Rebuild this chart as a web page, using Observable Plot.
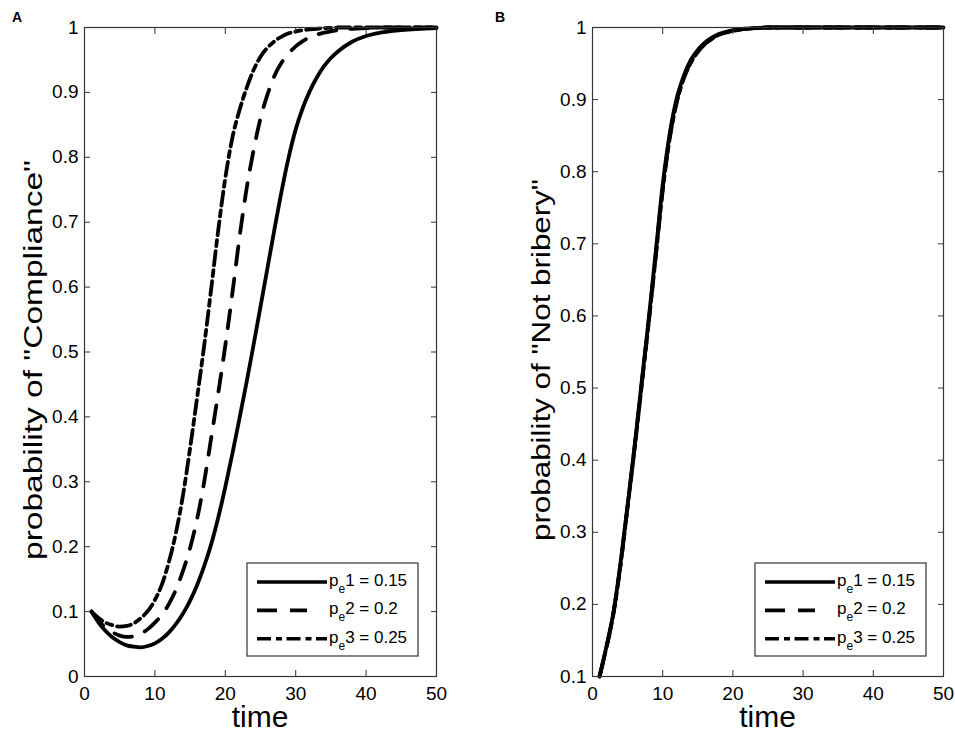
<!DOCTYPE html>
<html>
<head>
<meta charset="utf-8">
<script src="https://cdn.jsdelivr.net/npm/d3@7"></script>
<script src="https://cdn.jsdelivr.net/npm/@observablehq/plot@0.6"></script>
<style>
  html, body { margin: 0; padding: 0; background: #fff; }
  #wrap { display: flex; width: 955px; height: 738px; overflow: hidden; }
  #wrap svg { display: block; }
</style>
</head>
<body>
<div id="wrap"><div id="panelA"></div><div id="panelB"></div></div>
<script>
const FONT = "'Liberation Sans', Arial, Helvetica, sans-serif";

// ---------- Panel A data: probability of "Compliance" ----------
const timeA = [1,2,3,4,5,6,7,8,9,10,11,12,13,14,15,16,17,18,19,20,21,22,23,24,25,26,27,28,29,30,31,32,33,34,35,36,38,40,42,45,50];
const complianceP015 = [0.100,0.083,0.070,0.060,0.053,0.048,0.046,0.045,0.047,0.051,0.058,0.068,0.081,0.097,0.117,0.141,0.170,0.204,0.245,0.292,0.343,0.397,0.452,0.510,0.570,0.630,0.690,0.748,0.800,0.843,0.876,0.902,0.923,0.940,0.953,0.963,0.978,0.987,0.992,0.996,0.999];
const complianceP02  = [0.100,0.086,0.075,0.068,0.063,0.061,0.062,0.066,0.073,0.083,0.095,0.112,0.134,0.163,0.198,0.243,0.300,0.368,0.437,0.510,0.590,0.675,0.750,0.810,0.860,0.897,0.926,0.946,0.960,0.971,0.979,0.985,0.989,0.992,0.994,0.996,0.998,0.999,1.000,1.000,1.000];
const complianceP025 = [0.100,0.090,0.083,0.079,0.077,0.078,0.082,0.090,0.101,0.118,0.142,0.177,0.222,0.280,0.352,0.430,0.510,0.598,0.688,0.768,0.830,0.872,0.906,0.934,0.955,0.969,0.979,0.986,0.991,0.994,0.996,0.997,0.998,0.999,0.9995,1.000,1.000,1.000,1.000,1.000,1.000];

// ---------- Panel B data: probability of "Not bribery" ----------
const timeB = [1,2,3,4,5,6,7,8,9,10,11,12,13,14,15,16,17,18,19,20,21,22,23,24,25,30,35,40,45,50];
const notBriberyP015 = [0.100,0.142,0.190,0.258,0.338,0.420,0.508,0.595,0.688,0.782,0.853,0.902,0.933,0.955,0.969,0.979,0.986,0.991,0.994,0.996,0.9975,0.9985,0.999,0.9995,1.000,1.000,1.000,1.000,1.000,1.000];
const notBriberyP02  = [0.100,0.141,0.189,0.256,0.336,0.418,0.505,0.592,0.684,0.777,0.848,0.898,0.930,0.952,0.967,0.977,0.985,0.990,0.993,0.996,0.9975,0.9985,0.999,0.9995,1.000,1.000,1.000,1.000,1.000,1.000];
const notBriberyP025 = [0.100,0.141,0.188,0.255,0.335,0.416,0.503,0.590,0.681,0.774,0.846,0.896,0.929,0.951,0.966,0.977,0.984,0.990,0.993,0.995,0.997,0.998,0.999,0.9995,1.000,1.000,1.000,1.000,1.000,1.000];

// ---------- Ticks and legend ----------
const xTicks = [0,10,20,30,40,50];
const yTicksA = [0,0.1,0.2,0.3,0.4,0.5,0.6,0.7,0.8,0.9,1];
const yTicksB = [0.1,0.2,0.3,0.4,0.5,0.6,0.7,0.8,0.9,1];
const legendIndex = ["1","2","3"];
const legendValue = ["0.15","0.2","0.25"];
const curveDash = [null, "18,14", "14,5,6,5"];
const legendDash = [null, "20,13,17,40", "14,5,6,4.5"];

function panel(el, {width, marginLeft, marginRight, times, series, yDomain, yTicks, ylabel, ylabelLength, letter, letterX}) {
  const fmt = d => String(+d.toFixed(1));
  const lines = series.map((vals, s) =>
    Plot.line(times.map((t, i) => ({t, v: vals[i]})), {
      x: "t", y: "v", stroke: "black", strokeWidth: 3.8,
      strokeDasharray: curveDash[s] || undefined, curve: "monotone-x"
    })
  );
  const chart = Plot.plot({
    width, height: 738, marginLeft, marginRight, marginTop: 27, marginBottom: 62,
    style: {fontFamily: FONT, background: "white", color: "black"},
    x: {domain: [0, 50]},
    y: {domain: yDomain},
    marks: [
      ...lines,
      Plot.frame({stroke: "#333", strokeWidth: 1.2}),
      Plot.axisX({ticks: xTicks, anchor: "bottom", fill: "none", stroke: "#333", tickSize: 6, dy: -6, label: null}),
      Plot.axisX({ticks: xTicks, anchor: "top", fill: "none", stroke: "#333", tickSize: 6, dy: 6, label: null}),
      Plot.axisY({ticks: yTicks, anchor: "left", fill: "none", stroke: "#333", tickSize: 6, dx: 6, label: null}),
      Plot.axisY({ticks: yTicks, anchor: "right", fill: "none", stroke: "#333", tickSize: 6, dx: -6, label: null}),
      Plot.axisX({ticks: xTicks, anchor: "bottom", tickSize: 0, tickPadding: 10, fontSize: 19, label: null, tickFormat: d => String(d)}),
      Plot.axisY({ticks: yTicks, anchor: "left", tickSize: 0, tickPadding: 6, fontSize: 19, label: null, tickFormat: fmt})
    ]
  });
  const svg = d3.select(chart);
  const [x0, x1] = chart.scale("x").range;
  const cx = (x0 + x1) / 2;
  svg.append("text").attr("x", cx).attr("y", 727).attr("text-anchor", "middle")
    .attr("font-size", 30).attr("fill", "black").text("time");
  svg.append("text").attr("transform", `translate(${x0 - 42},360) rotate(-90)`)
    .attr("text-anchor", "middle").attr("font-size", 26).attr("fill", "black")
    .attr("textLength", ylabelLength).attr("lengthAdjust", "spacingAndGlyphs").text(ylabel);
  svg.append("text").attr("x", letterX).attr("y", 22).attr("font-size", 14)
    .attr("text-anchor", "start").attr("font-weight", "bold").attr("fill", "black").text(letter);

  const g = svg.append("g").attr("transform", `translate(${x0 + 163},563)`);
  g.append("rect").attr("width", 171).attr("height", 93).attr("fill", "white")
    .attr("stroke", "#333").attr("stroke-width", 1.2);
  legendIndex.forEach((idx, s) => {
    const ly = 19 + s * 28.4;
    const ln = g.append("line").attr("x1", 10).attr("x2", 80).attr("y1", ly).attr("y2", ly)
      .attr("stroke", "black").attr("stroke-width", 3.6);
    if (legendDash[s]) ln.attr("stroke-dasharray", legendDash[s]);
    const t = g.append("text").attr("x", 82).attr("y", ly + 4).attr("font-size", 17)
      .attr("text-anchor", "start").attr("fill", "black");
    t.append("tspan").text("p");
    t.append("tspan").attr("dy", 7).attr("font-size", 12).text("e");
    t.append("tspan").attr("dy", -7).text(`${idx} = ${legendValue[s]}`);
  });
  document.getElementById(el).appendChild(chart);
}

panel("panelA", {
  width: 477, marginLeft: 84, marginRight: 41, times: timeA,
  series: [complianceP015, complianceP02, complianceP025],
  yDomain: [0, 1], yTicks: yTicksA,
  ylabel: 'probability of "Compliance"', ylabelLength: 400, letter: "A", letterX: 12
});
panel("panelB", {
  width: 478, marginLeft: 115, marginRight: 12, times: timeB,
  series: [notBriberyP015, notBriberyP02, notBriberyP025],
  yDomain: [0.1, 1], yTicks: yTicksB,
  ylabel: 'probability of "Not bribery"', ylabelLength: 362, letter: "B", letterX: 18
});
</script>
</body>
</html>
